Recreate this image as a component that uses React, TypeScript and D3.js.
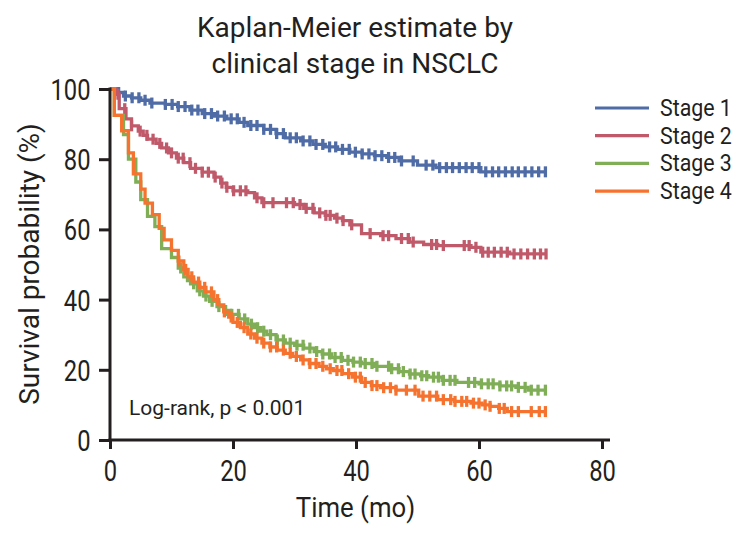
import React, { useEffect, useRef } from 'react';
import * as d3 from 'd3';

const stageNames = ['Stage 1', 'Stage 2', 'Stage 3', 'Stage 4'];
const stageColors = ['#4f6ca6', '#c05a6b', '#7fae57', '#f5732e'];
const xTicks = [0, 20, 40, 60, 80];
const yTicks = [0, 20, 40, 60, 80, 100];
const followUpEnd = [71, 71, 71, 71];

// [time (mo), survival (%)] after each drop
const stage1Steps: [number, number][] = [
  [0, 100], [1, 99], [2.2, 98], [3.5, 97.5], [5, 96.8], [6.5, 96], [9, 95.6], [11, 95], [13, 94],
  [15, 93], [17, 92.3], [19, 91.5], [21, 90.5], [22.4, 89.6], [25, 88.5], [27, 87.3], [28.5, 86.1],
  [31, 85.2], [33, 84.2], [35, 83.5], [37, 82.8], [39, 82], [41, 81.5], [43, 81], [45, 80.5], [47, 79.5],
  [50, 78.3], [53, 77.6], [60.3, 76.4],
];
const stage2Steps: [number, number][] = [
  [0, 100], [1, 98.5], [1.5, 94.4], [2.6, 91.5], [3.5, 89.5], [4.6, 88], [5.4, 86.8], [6.1, 85.7],
  [7.5, 84.5], [8.4, 83.2], [9.5, 81.8], [10.8, 80.3], [12, 79], [13.1, 77.4], [15, 76.3], [16.9, 74.9],
  [18, 73.2], [18.9, 72], [20, 71], [22.4, 70.5], [23.5, 69], [24.7, 67.6], [30, 67.1], [31.5, 66],
  [33.2, 64.7], [35, 64], [36.5, 63.2], [37.8, 62.5], [39, 61.3], [40.9, 58.8], [44, 58.2], [46.5, 57.4],
  [48.7, 56.4], [51, 55.7], [53.3, 55.4], [58.7, 54.9], [60.3, 53.5], [65, 53],
];
const stage3Steps: [number, number][] = [
  [0, 100], [0.7, 92.5], [2.2, 87], [3, 80], [4.2, 73.5], [5, 68.5], [6.1, 63.7], [7.3, 60.8],
  [8.4, 54.5], [10, 52], [11.1, 49], [12, 46.5], [13.1, 44.5], [14.2, 42.5], [15.2, 41], [16.2, 39.5],
  [17.4, 38], [18.5, 36.9], [19.6, 35.8], [21, 34.5], [22.4, 33], [23.5, 32], [24.5, 31], [25.5, 30],
  [27, 28.5], [28.5, 27.6], [30, 27], [31.5, 26.2], [33.2, 25.2], [34.5, 24.5], [36, 23.5], [37.8, 22.7],
  [39.5, 22.2], [40.9, 21.8], [43, 21], [45.6, 20.3], [47, 19.5], [48.7, 18.8], [50.5, 18.3], [51.8, 17.9],
  [54, 17], [56.4, 16.4], [60, 16], [63.4, 15.4], [66, 15], [68, 14.2],
];
const stage4Steps: [number, number][] = [
  [0, 100], [0.7, 92.5], [1.9, 88.1], [3, 81.8], [3.8, 75.8], [5, 71.5], [5.7, 67.5], [6.9, 64.2],
  [8, 60.3], [8.8, 57], [10, 54], [11.1, 51], [12, 48.6], [12.7, 46.5], [13.6, 45], [14.6, 43.5],
  [15.6, 42.2], [16.9, 40], [17.7, 38.5], [18.5, 36.5], [19.3, 35], [20, 33.5], [21.2, 32], [22.4, 30.2],
  [23.5, 29], [24.7, 27.6], [26, 26.5], [27.2, 25.6], [28.5, 24.7], [29.7, 23.8], [31, 22.8], [32.4, 21.8],
  [34, 21], [35.2, 20.3], [36.3, 19.8], [37.8, 18.9], [39.4, 17.9], [40.9, 16.4], [42.5, 15.5],
  [44, 14.9], [46.5, 14.2], [50.2, 12.5], [53.3, 11.5], [56, 11], [58.7, 10.5], [60.5, 10], [61.8, 9.6],
  [63.2, 9], [64.6, 8.1],
];

// censoring times (mo)
const stage1Censor = [
  1.4, 2.5, 3.6, 4.7, 5.7, 6.8, 9, 10.1, 11.1, 12.2, 13.3, 14.3, 15.4, 16.5, 17.5, 18.6, 19.7, 20.7,
  21.8, 22.9, 23.9, 25, 26.1, 27.1, 28.2, 29.3, 30.3, 31.4, 32.5, 33.5, 34.6, 35.7, 36.7, 37.8, 38.9,
  39.9, 41, 42.1, 43.1, 44.2, 45.3, 46.3, 47.4, 49.3, 51.4, 52.5, 53.6, 54.7, 55.7, 56.8, 57.9, 58.9,
  60, 61.1, 62.2, 63.2, 64.3, 65.4, 66.4, 67.5, 68.6, 69.7, 70.8,
];
const stage2Censor = [
  1.3, 2.4, 3.5, 4.9, 6, 7, 8.1, 9.2, 10, 11.1, 11.9, 13, 13.9, 15, 16, 17.1, 18.2, 19, 20.1, 21.2,
  22.1, 23.9, 25, 26.5, 28.7, 29.8, 30.9, 31.9, 33, 34.1, 35.1, 35.8, 36.9, 37.9, 39.3, 42.3,
  44.4, 45.3, 47.4, 48.5, 49.3, 52.3, 53.1, 54.2, 57.6, 58.4, 59.5, 60.6, 61.5, 62.5, 63.6, 64.6,
  65.7, 66.8, 67.9, 69, 70, 70.9,
];
const stage3Censor = [
  11.5, 12.6, 13.6, 14.6, 15.6, 16.6, 17.7, 18.8, 19.8, 20.9, 21.9, 23, 24, 25, 26.1, 27.2, 28.2,
  29.3, 30.4, 31.4, 32.5, 33.6, 34.6, 35.7, 36.6, 37.6, 38.7, 39.6, 40.7, 41.5, 42.6, 43.4, 45.3,
  45.8, 46.9, 47.7, 48.8, 49.6, 50.7, 51.5, 52.6, 53.4, 54.2, 55.3, 56.1, 58.3, 59.3, 60.4, 61.5,
  62.3, 63.4, 64.5, 65.3, 66.4, 67.5, 68.5, 69.6, 70.8,
];
const stage4Censor = [
  11.2, 12.3, 13.3, 14.4, 15.4, 16.5, 17.5, 18.6, 19.7, 20.7, 21.8, 22.9, 23.9, 25, 26.1, 27.1, 28.2,
  29.3, 30.3, 31.4, 32.5, 33.5, 34.6, 35.8, 36.9, 37.7, 38.8, 39.9, 40.7, 41.5, 42.6, 43.4, 44.5,
  45.6, 46.5, 48.2, 49.6, 50.9, 52, 53.1, 54.2, 55.4, 56.1, 57.2, 58, 59.1, 60, 61, 61.8, 63.3, 64.1,
  65.3, 66.4, 68.5, 69.8, 70.8,
];

const allSteps = [stage1Steps, stage2Steps, stage3Steps, stage4Steps];
const allCensor = [stage1Censor, stage2Censor, stage3Censor, stage4Censor];

const W = 738;
const H = 538;
const FONT = "Roboto, 'Noto Sans', sans-serif";
const INK = '#231f20';
const TICK_SX = 0.82;

const x = d3.scaleLinear().domain([0, 80]).range([110, 602]);
const y = d3.scaleLinear().domain([0, 100]).range([440, 89]);

function survAt(steps: [number, number][], t: number) {
  let s = 100;
  for (const [tt, ss] of steps) if (tt <= t) s = ss;
  return s;
}

function Txt(props: {
  x: number;
  y: number;
  size: number;
  sx?: number;
  anchor?: string;
  rotate?: number;
  children: React.ReactNode;
}) {
  const rot = props.rotate ? ` rotate(${props.rotate})` : '';
  return (
    <text
      transform={`translate(${props.x},${props.y})${rot} scale(${props.sx ?? 1},1)`}
      textAnchor={props.anchor || 'start'}
      fontFamily={FONT}
      fontSize={props.size}
      fill={INK}
    >
      {props.children}
    </text>
  );
}

export default function App() {
  const xRef = useRef<SVGGElement>(null);
  const yRef = useRef<SVGGElement>(null);

  useEffect(() => {
    const xa = d3.select(xRef.current!);
    xa.call(d3.axisBottom(x).tickValues(xTicks).tickSize(9).tickSizeOuter(0));
    const ya = d3.select(yRef.current!);
    ya.call(d3.axisLeft(y).tickValues(yTicks).tickSize(11).tickSizeOuter(0));
    for (const a of [xa, ya]) {
      a.selectAll('.tick line').attr('stroke', INK).attr('stroke-width', 3);
      a.selectAll('.tick text')
        .attr('fill', INK)
        .attr('transform', `scale(${TICK_SX},1)`)
        .style('font-family', FONT)
        .style('font-size', '29px');
    }
    xa.select('path.domain')
      .attr('d', `M${x(0) - 1.5},0H${x(80) + 8}`)
      .attr('stroke', INK)
      .attr('stroke-width', 3);
    ya.select('path.domain')
      .attr('d', `M0,${y(100) - 1.5}V${y(0) + 1.5}`)
      .attr('stroke', INK)
      .attr('stroke-width', 3);
    xa.selectAll('.tick text').attr('y', 41).attr('dy', '0');
    ya.selectAll('.tick text').attr('x', -19.5 / TICK_SX).attr('dy', '0.36em');
  }, []);

  const line = d3
    .line<[number, number]>()
    .x((d) => x(d[0]))
    .y((d) => y(d[1]))
    .curve(d3.curveStepAfter);

  return (
    <svg width={W} height={H} style={{ position: 'absolute', left: 0, top: 0, background: '#fff' }}>
      <Txt x={355} y={37} size={28} anchor="middle">Kaplan-Meier estimate by</Txt>
      <Txt x={355} y={73} size={28} anchor="middle">clinical stage in NSCLC</Txt>
      {allSteps.map((steps, i) => {
        const end = followUpEnd[i];
        const pts: [number, number][] = [...steps, [end, steps[steps.length - 1][1]]];
        return (
          <g key={i}>
            <path d={line(pts) || ''} fill="none" stroke={stageColors[i]} strokeWidth={3.3} />
            {allCensor[i].map((t, j) => (
              <line
                key={j}
                x1={x(t)}
                x2={x(t)}
                y1={y(survAt(steps, t)) - 5.5}
                y2={y(survAt(steps, t)) + 5.5}
                stroke={stageColors[i]}
                strokeWidth={3.3}
              />
            ))}
          </g>
        );
      })}
      <g ref={xRef} transform={`translate(0,${y(0)})`} />
      <g ref={yRef} transform={`translate(${x(0)},0)`} />
      <Txt x={129} y={415} size={21}>Log-rank, p &lt; 0.001</Txt>
      <Txt x={355.5} y={517} size={28} sx={0.92} anchor="middle">Time (mo)</Txt>
      <Txt x={39} y={264} size={28} anchor="middle" rotate={-90}>Survival probability (%)</Txt>
      {stageNames.map((n, i) => (
        <g key={n} transform={`translate(0,${108 + i * 27.7})`}>
          <line x1={595} x2={649} y1={0} y2={0} stroke={stageColors[i]} strokeWidth={3.2} />
          <Txt x={660} y={8} size={24} sx={0.89}>{n}</Txt>
        </g>
      ))}
    </svg>
  );
}
